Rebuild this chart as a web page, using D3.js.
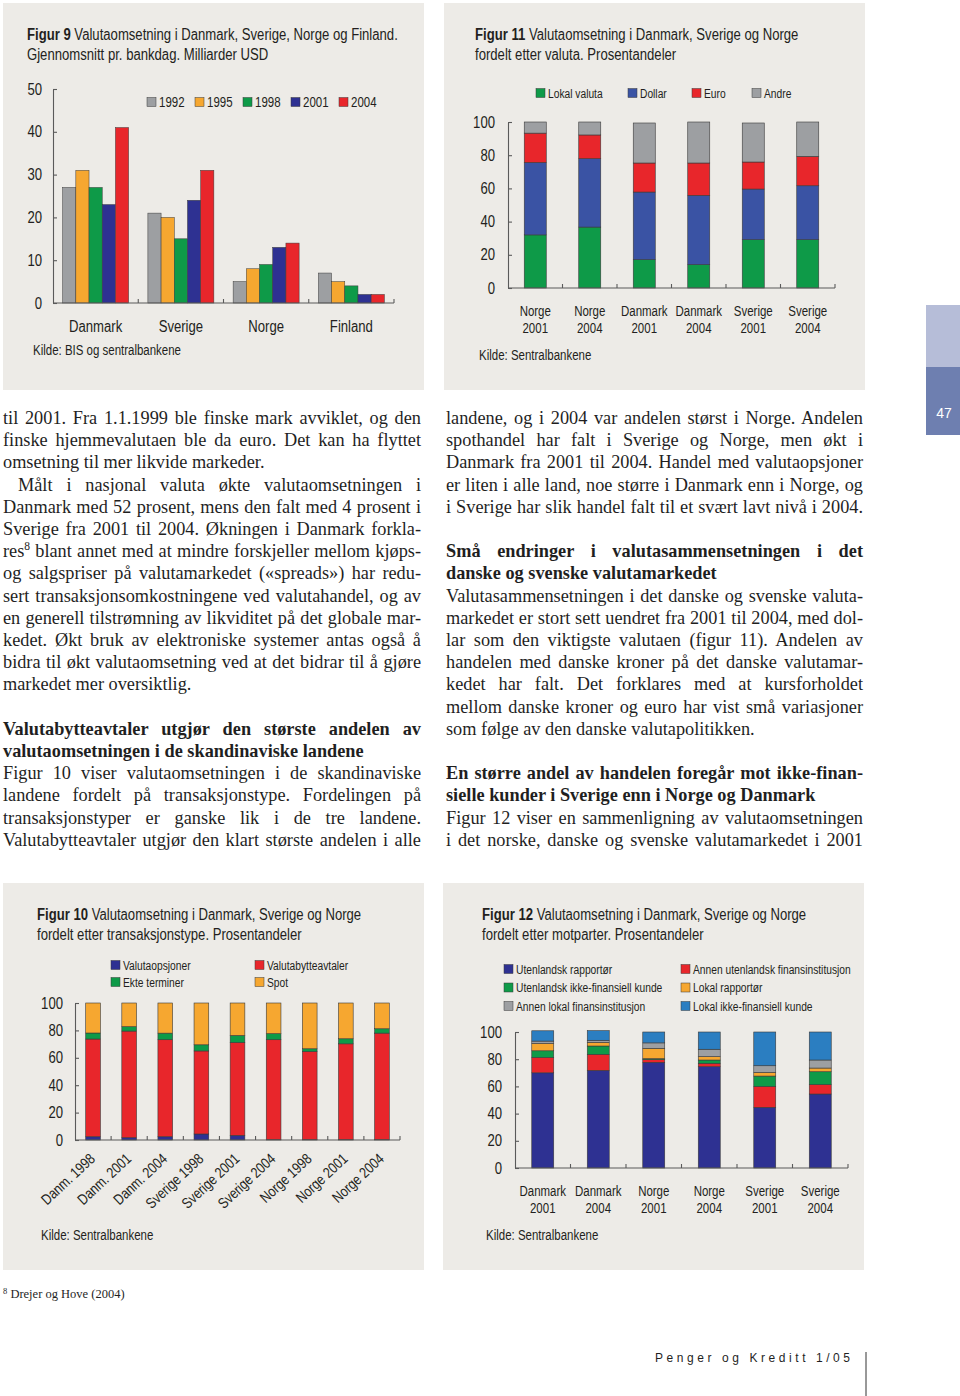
<!DOCTYPE html>
<html><head><meta charset="utf-8">
<script src="https://cdn.jsdelivr.net/npm/d3@7"></script>
<style>
html,body{margin:0;padding:0;background:#fff;}
svg{display:block;}
</style></head>
<body>
<svg id="page" width="960" height="1396"></svg>
<script>
// ================= DATA =================
const fig9Countries = ["Danmark","Sverige","Norge","Finland"];
const fig9Years = ["1992","1995","1998","2001","2004"];
const fig9V1992 = [27,21,5,7];
const fig9V1995 = [31,20,8,5];
const fig9V1998 = [27,15,9,4];
const fig9V2001 = [23,24,13,2];
const fig9V2004 = [41,31,14,2];
const fig9Ticks = [0,10,20,30,40,50];

const fig11Labels = [["Norge","2001"],["Norge","2004"],["Danmark","2001"],["Danmark","2004"],["Sverige","2001"],["Sverige","2004"]];
const fig11Series = ["Lokal valuta","Dollar","Euro","Andre"];
const fig11Lokal  = [32,36.7,17.1,14.1,29.1,29.1];
const fig11Dollar = [43.6,41.2,40.7,41.7,30.5,32.5];
const fig11Euro   = [17.7,14.3,17.5,19.5,16.3,17.7];
const fig11Andre  = [6.7,7.8,24.1,24.7,23.5,20.7];
const pctTicks = [0,20,40,60,80,100];

const fig10Labels = ["Danm. 1998","Danm. 2001","Danm. 2004","Sverige 1998","Sverige 2001","Sverige 2004","Norge 1998","Norge 2001","Norge 2004"];
const fig10Series = ["Valutaopsjoner","Valutabytteavtaler","Ekte terminer","Spot"];
const fig10Opsjoner = [2.4,1.7,2.4,4.4,3.4,0.3,0.3,0.3,0.3];
const fig10Bytte    = [71.3,77.8,70.8,60.6,67.8,72.9,64.3,69.9,77.7];
const fig10Termin   = [4.4,3.2,4.8,4.5,5.1,4.4,2.0,3.7,3.2];
const fig10Spot     = [21.9,17.3,22.0,30.5,23.7,22.4,33.4,26.1,18.8];

const fig12Labels = [["Danmark","2001"],["Danmark","2004"],["Norge","2001"],["Norge","2004"],["Sverige","2001"],["Sverige","2004"]];
const fig12Series = ["Utenlandsk rapportør","Annen utenlandsk finansinstitusjon","Utenlandsk ikke-finansiell kunde","Lokal rapportør","Annen lokal finansinstitusjon","Lokal ikke-finansiell kunde"];
const fig12UtlRapp     = [70,71.8,77.7,74.5,44.6,54.4];
const fig12AnnenUtlFin = [11.3,11.8,2.0,2.5,15.4,6.9];
const fig12UtlIkkeFin  = [4.9,6.1,0.7,2.4,7.6,9.5];
const fig12LokRapp     = [5.4,2.7,7.6,2.5,2.7,2.7];
const fig12AnnenLokFin = [1.7,1.5,4.0,5.4,4.9,5.9];
const fig12LokIkkeFin  = [7.6,7.1,8.0,12.7,24.8,20.6];

// ================= STYLE =================
const CF = '"Liberation Sans",Arial,sans-serif';
const K = 0.82; // horizontal condensing of the chart typeface
const SERIF = '"Liberation Serif","Times New Roman",serif';
const BG = "#edebe7", TXT = "#231f20", AX = "#5a5a5a";
const C = {gray:"#9d9fa2", orange:"#f6a730", green:"#0e9a48", navy:"#2e3192", red:"#e8262b", blue:"#3a53a4", lblue:"#2b7ec1"};
const svg = d3.select("#page");

function panelBox(x,y,w,h){ svg.append("rect").attr("x",x).attr("y",y).attr("width",w).attr("height",h).attr("fill",BG); }
function txt(x,y,s,size,anchor,rot){
  return svg.append("text").attr("transform",`translate(${x},${y})${rot?` rotate(${rot})`:""} scale(${K},1)`)
    .attr("font-family",CF).attr("font-size",size).attr("fill",TXT).attr("text-anchor",anchor||"start").text(s);
}
function title(x,y,bold,rest,line2){
  const t = txt(x,y,"",16);
  t.append("tspan").attr("font-weight","bold").text(bold);
  t.append("tspan").text(rest);
  txt(x,y+20,line2,16);
}
function yAxis(y,x0,ticks,pad){
  const g = svg.append("g").attr("transform",`translate(${x0},0)`)
    .call(d3.axisLeft(y).tickValues(ticks).tickSize(-4).tickSizeOuter(0).tickPadding(pad));
  g.selectAll("path,line").attr("stroke",AX).attr("stroke-width",1.1);
  g.selectAll("text").attr("font-family",CF).attr("font-size",16).attr("fill",TXT)
    .attr("x",0).attr("transform",`translate(${-pad},0) scale(${K},1)`);
}
function xBaseline(x,y0){
  const step = x.step(), off = step*x.paddingInner()/2;
  const r = x.range();
  svg.append("line").attr("x1",r[0]).attr("x2",r[1]).attr("y1",y0).attr("y2",y0).attr("stroke",AX).attr("stroke-width",1.1);
  const bounds = x.domain().map(d=>x(d)+x.bandwidth()+off);
  svg.append("g").selectAll("line").data(bounds).join("line")
    .attr("x1",d=>d).attr("x2",d=>d).attr("y1",y0).attr("y2",y0-4).attr("stroke",AX).attr("stroke-width",1.1);
}
function stackedBars(x,y,keys,arrays,colors){
  const rows = x.domain().map((d,i)=>{ const o={key:d}; keys.forEach((k,j)=>o[k]=arrays[j][i]); return o; });
  const series = d3.stack().keys(keys)(rows);
  svg.append("g").selectAll("g").data(series).join("g").attr("fill",(d,i)=>colors[i])
    .selectAll("rect").data(d=>d).join("rect")
    .attr("x",d=>x(d.data.key)).attr("width",x.bandwidth())
    .attr("y",d=>y(d[1])).attr("height",d=>y(d[0])-y(d[1]))
    .attr("stroke","#3a3a3a").attr("stroke-width",0.6);
}
function legend(items,colors,pos,size){
  items.forEach((s,i)=>{
    const p = pos(i);
    svg.append("rect").attr("x",p[0]).attr("y",p[1]-4.5).attr("width",9).attr("height",9).attr("fill",colors[i]).attr("stroke","#3a3a3a").attr("stroke-width",0.5);
    txt(p[0]+12,p[1]+4.5,s,size);
  });
}

// ================= FIGUR 9 =================
panelBox(3,3,421,387);
title(27,40,"Figur 9"," Valutaomsetning i Danmark, Sverige, Norge og Finland.","Gjennomsnitt pr. bankdag. Milliarder USD");
{
  const x = d3.scaleBand().domain(fig9Countries).range([53,394]).paddingInner(0.226).paddingOuter(0.113);
  const xi = d3.scaleBand().domain(fig9Years).range([0,x.bandwidth()]);
  const y = d3.scaleLinear().domain([0,50]).range([303,89]);
  const vals = [fig9V1992,fig9V1995,fig9V1998,fig9V2001,fig9V2004];
  const cols = [C.gray,C.orange,C.green,C.navy,C.red];
  fig9Years.forEach((yr,j)=>{
    svg.append("g").attr("fill",cols[j]).selectAll("rect").data(fig9Countries).join("rect")
      .attr("x",(c)=>x(c)+xi(yr)).attr("width",xi.bandwidth())
      .attr("y",(c,i)=>y(vals[j][i])).attr("height",(c,i)=>y(0)-y(vals[j][i]))
      .attr("stroke","#3a3a3a").attr("stroke-width",0.5);
  });
  yAxis(y,53,fig9Ticks,11);
  xBaseline(x,303);
  fig9Countries.forEach(c=>txt(x(c)+x.bandwidth()/2,331.5,c,16,"middle"));
  legend(fig9Years,cols,i=>[147+i*48,102],14);
  txt(33,355,"Kilde: BIS og sentralbankene",14);
}

// ================= FIGUR 11 =================
panelBox(444,3,421,387);
title(475,40,"Figur  11"," Valutaomsetning i Danmark, Sverige og Norge","fordelt etter valuta. Prosentandeler");
{
  const x = d3.scaleBand().domain(d3.range(fig11Labels.length)).range([508,835]).paddingInner(0.596).paddingOuter(0.298);
  const y = d3.scaleLinear().domain([0,100]).range([288,122]);
  const cols = [C.green,C.blue,C.red,C.gray];
  stackedBars(x,y,fig11Series,[fig11Lokal,fig11Dollar,fig11Euro,fig11Andre],cols);
  yAxis(y,508,pctTicks,13);
  xBaseline(x,288);
  fig11Labels.forEach((l,i)=>{ const cx=x(i)+x.bandwidth()/2; txt(cx,316,l[0],14,"middle"); txt(cx,333,l[1],14,"middle"); });
  const lx = [536,628,692,752];
  legend(fig11Series,cols,i=>[lx[i],93],12.5);
  txt(479,360,"Kilde: Sentralbankene",14);
}

// ================= FIGUR 10 =================
panelBox(3,883,421,387);
title(37,920,"Figur 10"," Valutaomsetning i Danmark, Sverige og Norge","fordelt etter transaksjonstype. Prosentandeler");
{
  const x = d3.scaleBand().domain(fig10Labels).range([75,400]).paddingInner(0.593).paddingOuter(0.2965);
  const y = d3.scaleLinear().domain([0,100]).range([1140,1003]);
  const cols = [C.navy,C.red,C.green,C.orange];
  stackedBars(x,y,fig10Series,[fig10Opsjoner,fig10Bytte,fig10Termin,fig10Spot],cols);
  yAxis(y,75,pctTicks,12);
  xBaseline(x,1140);
  fig10Labels.forEach(l=>{
    const cx = x(l)+x.bandwidth()/2+3;
    txt(cx,1160,l,15,"end",-43);
  });
  legend(fig10Series,cols,i=>[111+(i%2)*144,965+Math.floor(i/2)*17],12.5);
  txt(41,1240,"Kilde: Sentralbankene",14);
}

// ================= FIGUR 12 =================
panelBox(443,883,421,387);
title(482,920,"Figur 12"," Valutaomsetning i Danmark, Sverige og Norge","fordelt etter motparter. Prosentandeler");
{
  const x = d3.scaleBand().domain(d3.range(fig12Labels.length)).range([515,848]).paddingInner(0.604).paddingOuter(0.302);
  const y = d3.scaleLinear().domain([0,100]).range([1168,1032]);
  const cols = [C.navy,C.red,C.green,C.orange,C.gray,C.lblue];
  stackedBars(x,y,fig12Series,[fig12UtlRapp,fig12AnnenUtlFin,fig12UtlIkkeFin,fig12LokRapp,fig12AnnenLokFin,fig12LokIkkeFin],cols);
  yAxis(y,515,pctTicks,13);
  xBaseline(x,1168);
  fig12Labels.forEach((l,i)=>{ const cx=x(i)+x.bandwidth()/2; txt(cx,1196,l[0],14,"middle"); txt(cx,1213,l[1],14,"middle"); });
  legend(fig12Series,cols,i=>[504+(i%2)*177,969+Math.floor(i/2)*18.5],12.5);
  txt(486,1240,"Kilde: Sentralbankene",14);
}

// ================= BODY TEXT =================
const leftCol = [
  [0,"til 2001. Fra 1.1.1999 ble finske mark avviklet, og den",1,0],
  [1,"finske hjemmevalutaen ble da euro. Det kan ha flyttet",1,0],
  [2,"omsetning til mer likvide markeder.",0,0],
  [3,"Målt i nasjonal valuta økte valutaomsetningen i",1,0,15],
  [4,"Danmark med 52 prosent, mens den falt med 4 prosent i",1,0],
  [5,"Sverige fra 2001 til 2004. Økningen i Danmark forkla-",1,0],
  [6,"res^8^ blant annet med at mindre forskjeller mellom kjøps-",1,0],
  [7,"og salgspriser på valutamarkedet («spreads») har redu-",1,0],
  [8,"sert transaksjonsomkostningene ved valutahandel, og av",1,0],
  [9,"en generell tilstrømning av likviditet på det globale mar-",1,0],
  [10,"kedet. Økt bruk av elektroniske systemer antas også å",1,0],
  [11,"bidra til økt valutaomsetning ved at det bidrar til å gjøre",1,0],
  [12,"markedet mer oversiktlig.",0,0],
  [14,"Valutabytteavtaler utgjør den største andelen av",1,1],
  [15,"valutaomsetningen i de skandinaviske landene",0,1],
  [16,"Figur 10 viser valutaomsetningen i de skandinaviske",1,0],
  [17,"landene fordelt på transaksjonstype. Fordelingen på",1,0],
  [18,"transaksjonstyper er ganske lik i de tre landene.",1,0],
  [19,"Valutabytteavtaler utgjør den klart største andelen i alle",1,0]
];
const rightCol = [
  [0,"landene, og i 2004 var andelen størst i Norge. Andelen",1,0],
  [1,"spothandel har falt i Sverige og Norge, men økt i",1,0],
  [2,"Danmark fra 2001 til 2004. Handel med valutaopsjoner",1,0],
  [3,"er liten i alle land, noe større i Danmark enn i Norge, og",1,0],
  [4,"i Sverige har slik handel falt til et svært lavt nivå i 2004.",1,0],
  [6,"Små endringer i valutasammensetningen i det",1,1],
  [7,"danske og svenske valutamarkedet",0,1],
  [8,"Valutasammensetningen i det danske og svenske valuta-",1,0],
  [9,"markedet er stort sett uendret fra 2001 til 2004, med dol-",1,0],
  [10,"lar som den viktigste valutaen (figur 11). Andelen av",1,0],
  [11,"handelen med danske kroner på det danske valutamar-",1,0],
  [12,"kedet har falt. Det forklares med at kursforholdet",1,0],
  [13,"mellom danske kroner og euro har vist små variasjoner",1,0],
  [14,"som følge av den danske valutapolitikken.",0,0],
  [16,"En større andel av handelen foregår mot ikke-finan-",1,1],
  [17,"sielle kunder i Sverige enn i Norge og Danmark",0,1],
  [18,"Figur 12 viser en sammenligning av valutaomsetningen",1,0],
  [19,"i det norske, danske og svenske valutamarkedet i 2001",1,0]
];
function bodyLines(lines,x0,x1){
  lines.forEach(([idx,str,just,bold,indent])=>{
    const x = x0+(indent||0), w = x1-x;
    const y = 418+idx*22.2+6;
    const t = svg.append("text").attr("x",x).attr("y",y).attr("font-family",SERIF).attr("font-size",18.3).attr("fill","#1f1f1f");
    if(bold) t.attr("font-weight","bold");
    const parts = str.split("^");
    if(parts.length===3){
      t.append("tspan").text(parts[0]);
      t.append("tspan").attr("dy",-7).attr("font-size",11.5).text(parts[1]);
      t.append("tspan").attr("dy",7).text(parts[2]);
    } else t.text(str);
    if(just){
      const nat = t.node().getComputedTextLength();
      const n = (str.match(/ /g)||[]).length;
      t.style("word-spacing",((w-nat)/n)+"px");
    }
  });
}
bodyLines(leftCol,3,421);
bodyLines(rightCol,446,863);

// ================= SIDEBAR / FOOTER =================
svg.append("rect").attr("x",926).attr("y",305).attr("width",34).attr("height",62).attr("fill","#b6bdd8");
svg.append("rect").attr("x",926).attr("y",367).attr("width",34).attr("height",68).attr("fill","#6e7fb0");
svg.append("text").attr("x",944).attr("y",418).attr("text-anchor","middle").attr("font-family",CF).attr("font-size",14).attr("fill","#fff").text("47");

const fn = svg.append("text").attr("x",3).attr("y",1298).attr("font-family",SERIF).attr("font-size",12.5).attr("fill","#1f1f1f");
fn.append("tspan").attr("font-size",8.5).attr("dy",-4).text("8");
fn.append("tspan").attr("dy",4).text(" Drejer og Hove (2004)");

svg.append("text").attr("x",655).attr("y",1362).attr("font-family",CF).attr("font-size",12)
  .attr("fill","#1f1f1f").attr("textLength",195).attr("lengthAdjust","spacing").text("Penger og Kreditt 1/05");
svg.append("line").attr("x1",866).attr("x2",866).attr("y1",1352).attr("y2",1396).attr("stroke","#333").attr("stroke-width",1);
</script>
</body></html>
